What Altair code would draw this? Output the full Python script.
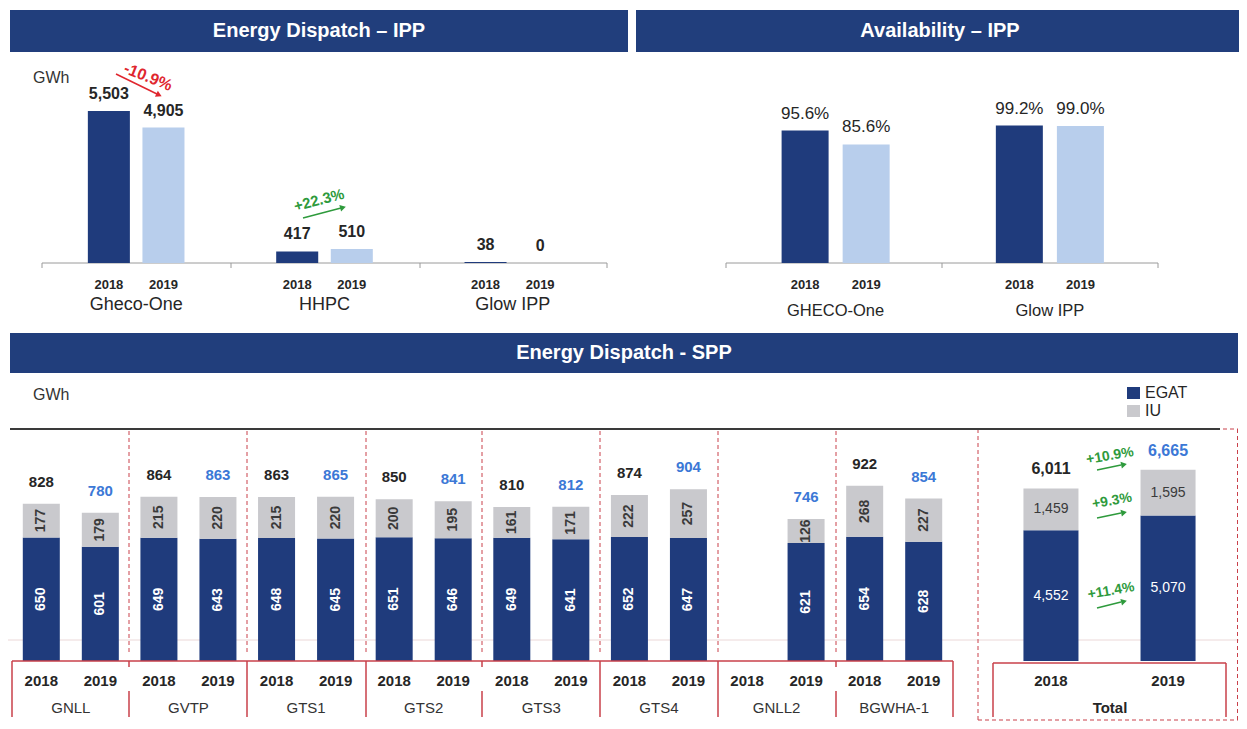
import altair as alt
import pandas as pd

# ---------------- data ----------------
years = ["2018", "2019"]

ipp_plants = ["Gheco-One", "HHPC", "Glow IPP"]
ipp_2018 = [5503, 417, 38]
ipp_2019 = [4905, 510, 0]
ipp_changes = ["-10.9%", "+22.3%"]

avail_plants = ["GHECO-One", "Glow IPP"]
avail_2018 = [95.6, 99.2]
avail_2019 = [85.6, 99.0]

spp_plants = ["GNLL", "GVTP", "GTS1", "GTS2", "GTS3", "GTS4", "GNLL2", "BGWHA-1"]
spp_egat_2018 = [650, 649, 648, 651, 649, 652, None, 654]
spp_iu_2018 = [177, 215, 215, 200, 161, 222, None, 268]
spp_total_2018 = [828, 864, 863, 850, 810, 874, None, 922]
spp_egat_2019 = [601, 643, 645, 646, 641, 647, 621, 628]
spp_iu_2019 = [179, 220, 220, 195, 171, 257, 126, 227]
spp_total_2019 = [780, 863, 865, 841, 812, 904, 746, 854]

total_egat = [4552, 5070]
total_iu = [1459, 1595]
total_sum = [6011, 6665]
total_changes = ["+10.9%", "+9.3%", "+11.4%"]  # total, IU, EGAT

titles = ["Energy Dispatch \u2013 IPP", "Availability \u2013 IPP", "Energy Dispatch - SPP"]
legend_items = ["EGAT", "IU"]
unit = "GWh"

# ---------------- styles ----------------
NAVY = "#1F3B7C"
LIGHT = "#B8CEEC"
GRAY = "#C9C9CD"
HEAD = "#213E7C"
DARK = "#262626"
BLUE = "#3B78D6"
RED = "#E0262E"
GREEN = "#2E9A3C"
BOXRED = "#C9404A"
FONT = "Liberation Sans"
W, H = 1231, 713


def P(v):
    return v - 8


# ---------------- tables ----------------
df_ipp = pd.DataFrame([
    {"plant": p, "year": y, "value": v, "label": f"{v:,}"}
    for p, a, b in zip(ipp_plants, ipp_2018, ipp_2019)
    for y, v in zip(years, (a, b))
])
df_av = pd.DataFrame([
    {"plant": p, "year": y, "value": v, "label": f"{v:.1f}%"}
    for p, a, b in zip(avail_plants, avail_2018, avail_2019)
    for y, v in zip(years, (a, b))
])
seg_rows, tot_rows = [], []
for i, p in enumerate(spp_plants):
    for y, eg, iu, tt in (("2018", spp_egat_2018[i], spp_iu_2018[i], spp_total_2018[i]),
                          ("2019", spp_egat_2019[i], spp_iu_2019[i], spp_total_2019[i])):
        if eg is None:
            continue
        seg_rows.append(dict(plant=p, year=y, seg="EGAT", start=0, end=eg, label=str(eg)))
        seg_rows.append(dict(plant=p, year=y, seg="IU", start=eg, end=eg + iu, label=str(iu)))
        tot_rows.append(dict(plant=p, year=y, top=eg + iu, label=str(tt)))
df_spp = pd.DataFrame(seg_rows)
df_spp["mid"] = (df_spp["start"] + df_spp["end"]) / 2
df_spp_tot = pd.DataFrame(tot_rows)
df_spp_years = pd.DataFrame([{"plant": p, "year": y} for p in spp_plants for y in years])

tseg = []
for y, eg, iu in zip(years, total_egat, total_iu):
    tseg.append(dict(year=y, seg="EGAT", start=0, end=eg, label=f"{eg:,}"))
    tseg.append(dict(year=y, seg="IU", start=eg, end=eg + iu, label=f"{iu:,}"))
df_tot = pd.DataFrame(tseg)
df_tot["mid"] = (df_tot["start"] + df_tot["end"]) / 2
df_tot_sum = pd.DataFrame([{"year": y, "top": eg + iu, "label": f"{s:,}"}
                           for y, eg, iu, s in zip(years, total_egat, total_iu, total_sum)])


# ---------------- helpers for layout decorations ----------------
def rules(segs, color, width, dash=None):
    df = pd.DataFrame([{"x": P(a), "y": P(b), "x2": P(c), "y2": P(d)} for a, b, c, d in segs])
    mk = dict(color=color, strokeWidth=width)
    if dash:
        mk["strokeDash"] = dash
    return alt.Chart(df).mark_rule(**mk).encode(
        x=alt.X("x:Q", scale=None, axis=None), y=alt.Y("y:Q", scale=None, axis=None),
        x2="x2:Q", y2="y2:Q")


def rects(boxes, color):
    df = pd.DataFrame([{"x": P(a), "y": P(b), "x2": P(c), "y2": P(d)} for a, b, c, d in boxes])
    return alt.Chart(df).mark_rect(color=color).encode(
        x=alt.X("x:Q", scale=None, axis=None), y=alt.Y("y:Q", scale=None, axis=None),
        x2="x2:Q", y2="y2:Q")


def texts(items, **mk):
    df = pd.DataFrame([{"x": P(x), "y": P(y), "t": t} for x, y, t in items])
    base = dict(font=FONT, baseline="middle")
    base.update(mk)
    return alt.Chart(df).mark_text(**base).encode(
        x=alt.X("x:Q", scale=None, axis=None), y=alt.Y("y:Q", scale=None, axis=None), text="t:N")


def heads(items, color):
    layers = []
    for x, y, ang in items:
        df = pd.DataFrame([{"x": P(x), "y": P(y)}])
        layers.append(alt.Chart(df).mark_point(shape="triangle-right", filled=True, size=45,
                                               color=color, opacity=1, angle=ang).encode(
            x=alt.X("x:Q", scale=None, axis=None), y=alt.Y("y:Q", scale=None, axis=None)))
    return layers


# ---------------- panel: Energy Dispatch IPP ----------------
x_tl = alt.X("plant:N", scale=alt.Scale(domain=ipp_plants, range=[P(42), P(607)],
                                        paddingInner=0, paddingOuter=0), axis=None)
xo_tl = alt.XOffset("year:N", scale=alt.Scale(domain=years, paddingInner=0.23, paddingOuter=0.84))
ys_tl = alt.Scale(domain=[0, 6000], range=[P(263), P(263) - 165.7], nice=False)
tl = alt.layer(
    alt.Chart(df_ipp).mark_bar().encode(
        x=x_tl, xOffset=xo_tl, y=alt.Y("value:Q", scale=ys_tl, axis=None),
        color=alt.Color("year:N", scale=alt.Scale(domain=years, range=[NAVY, LIGHT]), legend=None)),
    alt.Chart(df_ipp).mark_text(dy=-17, fontSize=16, fontWeight="bold", color=DARK, font=FONT).encode(
        x=x_tl, xOffset=xo_tl, y=alt.Y("value:Q", scale=ys_tl, axis=None), text="label:N"),
    alt.Chart(df_ipp).mark_text(fontSize=13, fontWeight="bold", color=DARK, font=FONT).encode(
        x=x_tl, xOffset=xo_tl, y=alt.value(P(285)), text="year:N"),
    alt.Chart(pd.DataFrame({"plant": ipp_plants})).mark_text(fontSize=18, color=DARK, font=FONT).encode(
        x=x_tl, y=alt.value(P(305)), text="plant:N"),
)

# ---------------- panel: Availability IPP ----------------
x_tr = alt.X("plant:N", scale=alt.Scale(domain=avail_plants, range=[P(728.5), P(1157)],
                                        paddingInner=0, paddingOuter=0), axis=None)
xo_tr = alt.XOffset("year:N", scale=alt.Scale(domain=years, paddingInner=0.23, paddingOuter=0.87))
ys_tr = alt.Scale(domain=[0, 100], range=[P(263), P(263) - 138.5], nice=False)
tr = alt.layer(
    alt.Chart(df_av).mark_bar().encode(
        x=x_tr, xOffset=xo_tr, y=alt.Y("value:Q", scale=ys_tr, axis=None),
        color=alt.Color("year:N", scale=alt.Scale(domain=years, range=[NAVY, LIGHT]), legend=None)),
    alt.Chart(df_av).mark_text(dy=-17, fontSize=17, color=DARK, font=FONT).encode(
        x=x_tr, xOffset=xo_tr, y=alt.Y("value:Q", scale=ys_tr, axis=None), text="label:N"),
    alt.Chart(df_av).mark_text(fontSize=13, fontWeight="bold", color=DARK, font=FONT).encode(
        x=x_tr, xOffset=xo_tr, y=alt.value(P(285)), text="year:N"),
    alt.Chart(pd.DataFrame({"plant": avail_plants})).mark_text(fontSize=16.5, color=DARK, font=FONT).encode(
        x=x_tr, y=alt.value(P(311)), text="plant:N"),
)

# ---------------- panel: Energy Dispatch SPP ----------------
x_sp = alt.X("plant:N", scale=alt.Scale(domain=spp_plants, range=[P(12), P(953)],
                                        paddingInner=0, paddingOuter=0), axis=None)
xo_sp = alt.XOffset("year:N", scale=alt.Scale(domain=years, paddingInner=0.373, paddingOuter=0.183))
ys_sp = alt.Scale(domain=[0, 1000], range=[P(661), P(661) - 190], nice=False)
seg_color = alt.Color("seg:N", scale=alt.Scale(domain=legend_items, range=[NAVY, GRAY]), legend=None)
sp = alt.layer(
    alt.Chart(df_spp).mark_bar().encode(
        x=x_sp, xOffset=xo_sp, y=alt.Y("start:Q", scale=ys_sp, axis=None), y2="end:Q", color=seg_color),
    alt.Chart(df_spp).transform_filter(alt.datum.seg == "EGAT").mark_text(
        angle=270, fontSize=14, fontWeight="bold", color="white", font=FONT).encode(
        x=x_sp, xOffset=xo_sp, y=alt.Y("mid:Q", scale=ys_sp, axis=None), text="label:N"),
    alt.Chart(df_spp).transform_filter(alt.datum.seg == "IU").mark_text(
        angle=270, fontSize=14, fontWeight="bold", color="#3A3A3A", font=FONT).encode(
        x=x_sp, xOffset=xo_sp, y=alt.Y("mid:Q", scale=ys_sp, axis=None), text="label:N"),
    alt.Chart(df_spp_tot).transform_filter(alt.datum.year == "2018").mark_text(
        dy=-22, fontSize=15, fontWeight="bold", color=DARK, font=FONT).encode(
        x=x_sp, xOffset=xo_sp, y=alt.Y("top:Q", scale=ys_sp, axis=None), text="label:N"),
    alt.Chart(df_spp_tot).transform_filter(alt.datum.year == "2019").mark_text(
        dy=-22, fontSize=15, fontWeight="bold", color=BLUE, font=FONT).encode(
        x=x_sp, xOffset=xo_sp, y=alt.Y("top:Q", scale=ys_sp, axis=None), text="label:N"),
    alt.Chart(df_spp_years).mark_text(fontSize=15, fontWeight="bold", color=DARK, font=FONT).encode(
        x=x_sp, xOffset=xo_sp, y=alt.value(P(681)), text="year:N"),
    alt.Chart(pd.DataFrame({"plant": spp_plants})).mark_text(fontSize=15, color="#333333", font=FONT).encode(
        x=x_sp, y=alt.value(P(708)), text="plant:N"),
)

# ---------------- panel: Total ----------------
x_to = alt.X("year:N", scale=alt.Scale(domain=years, range=[P(993), P(1226)],
                                       paddingInner=0.53, paddingOuter=0.26), axis=None)
ys_to = alt.Scale(domain=[0, 7000], range=[P(661), P(661) - 200.9], nice=False)
to = alt.layer(
    alt.Chart(df_tot).mark_bar().encode(
        x=x_to, y=alt.Y("start:Q", scale=ys_to, axis=None), y2="end:Q", color=seg_color),
    alt.Chart(df_tot).transform_filter(alt.datum.seg == "EGAT").mark_text(
        fontSize=14, color="white", font=FONT).encode(
        x=x_to, y=alt.Y("mid:Q", scale=ys_to, axis=None), text="label:N"),
    alt.Chart(df_tot).transform_filter(alt.datum.seg == "IU").mark_text(
        fontSize=14, color="#3A3A3A", font=FONT).encode(
        x=x_to, y=alt.Y("mid:Q", scale=ys_to, axis=None), text="label:N"),
    alt.Chart(df_tot_sum).transform_filter(alt.datum.year == "2018").mark_text(
        dy=-19, fontSize=16, fontWeight="bold", color=DARK, font=FONT).encode(
        x=x_to, y=alt.Y("top:Q", scale=ys_to, axis=None), text="label:N"),
    alt.Chart(df_tot_sum).transform_filter(alt.datum.year == "2019").mark_text(
        dy=-19, fontSize=16, fontWeight="bold", color=BLUE, font=FONT).encode(
        x=x_to, y=alt.Y("top:Q", scale=ys_to, axis=None), text="label:N"),
    alt.Chart(pd.DataFrame({"year": years})).mark_text(
        fontSize=15, fontWeight="bold", color=DARK, font=FONT).encode(
        x=x_to, y=alt.value(P(681)), text="year:N"),
)

# ---------------- decorations ----------------
faint = rules([(8, 640, 1239, 640)], "#EBD8D8", 1)
headers = rects([(10, 10, 628, 52), (636, 10, 1245, 52), (10, 333, 1238, 373)], HEAD)
header_txt = texts([(319, 31, titles[0]), (940, 31, titles[1]), (624, 353, titles[2])],
                   fontSize=20, fontWeight="bold", color="white", align="center")
axes_top = rules([(42, 263, 607, 263), (42, 263, 42, 268), (231, 263, 231, 268), (420, 263, 420, 268),
                  (607, 263, 607, 268), (726, 263, 1158, 263), (726, 263, 726, 268),
                  (942, 263, 942, 268), (1158, 263, 1158, 268)], "#9A9A9A", 1)
dashed = rules([(x, 431, x, 655) for x in [129, 247, 366, 482, 600, 718, 836]]
               + [(978, 429, 1238, 429), (978, 429, 978, 720), (1237.5, 429, 1237.5, 720),
                  (978, 720, 1238, 720)], BOXRED, 1, [4, 3])
black_line = rules([(10, 429, 1220, 429)], "#3A3A3A", 2)
box_segs = [(12, 661, 953, 661)]
for x in [12, 247, 366, 600, 718, 953]:
    box_segs.append((x, 661, x, 717))
for x in [129, 482, 836]:
    box_segs += [(x, 661, x, 667), (x, 691, x, 717)]
box_segs += [(993, 663, 1226, 663), (993, 663, 993, 717), (1226, 663, 1226, 717)]
red_box = rules(box_segs, BOXRED, 1.5)
total_lbl = texts([(1110, 708, "Total")], fontSize=15, fontWeight="bold", color=DARK, align="center")
gwh = texts([(33, 78, unit), (33, 395, unit)], fontSize=16, color="#333333", align="left")

legend_sq = [rects([(1127, 387, 1140, 399)], NAVY), rects([(1127, 405, 1140, 417)], GRAY)]
legend_txt = texts([(1145, 393, legend_items[0]), (1145, 411, legend_items[1])],
                   fontSize=16, color=DARK, align="left")

red_arrow = rules([(116, 74, 157, 94)], RED, 1.5)
green_arrow = rules([(303, 218, 341, 208)] + [(1097, 470, 1121, 465), (1097, 518, 1121, 513),
                                                (1097, 608, 1121, 602)], GREEN, 1.5)
arrow_heads = heads([(159, 95, 26)], RED) + heads(
    [(343, 207.5, 345), (1124, 464.5, 348), (1124, 512.5, 348), (1124, 601.5, 346)], GREEN)
red_txt = texts([(148, 77, ipp_changes[0])], fontSize=16, fontWeight="bold", color=RED,
                align="center", angle=22)
green_txt = texts([(319, 200, ipp_changes[1])], fontSize=15, fontWeight="bold", color=GREEN,
                  align="center", angle=345)
green_tot = texts([(1110, 456, total_changes[0]), (1112, 501, total_changes[1]),
                   (1111, 591, total_changes[2])], fontSize=14, fontWeight="bold", color=GREEN,
                  align="center", angle=350)

chart = alt.layer(
    faint, headers, header_txt, axes_top, dashed, black_line,
    tl, tr, sp, to,
    red_box, total_lbl, gwh, *legend_sq, legend_txt,
    red_arrow, green_arrow, *arrow_heads, red_txt, green_txt, green_tot,
).resolve_scale(
    x="independent", y="independent", xOffset="independent", color="independent"
).properties(
    width=W, height=H, padding=0, autosize=alt.AutoSizeParams(type="none"),
    background="white",
).configure_view(stroke=None)

chart.save("out.html", embed_options={"renderer": "svg", "actions": False})
